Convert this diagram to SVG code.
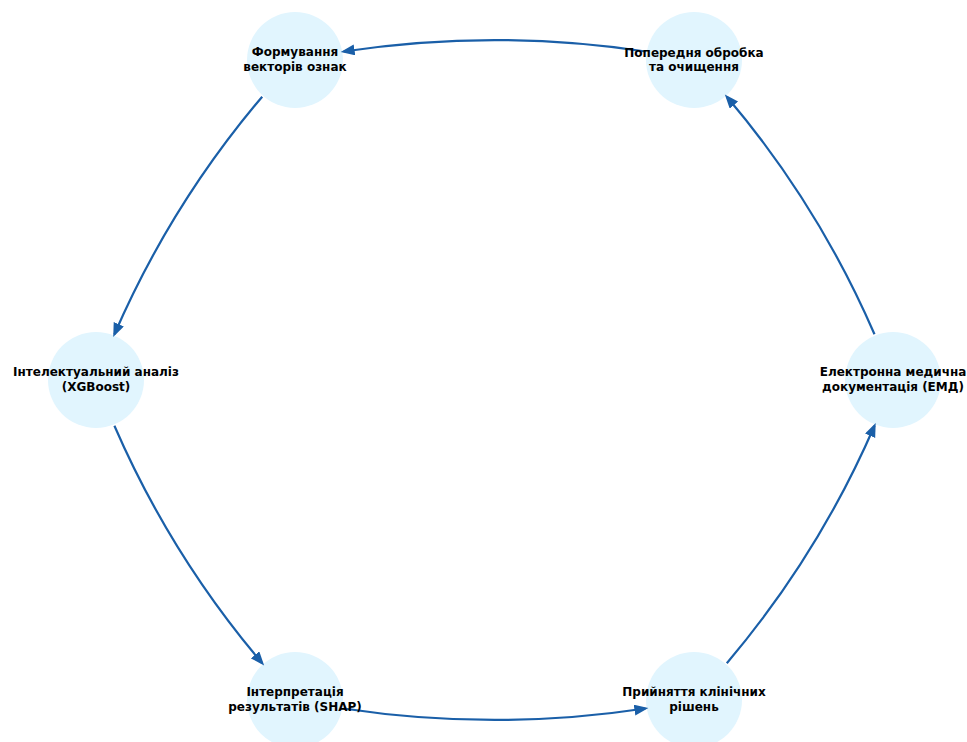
<svg xmlns="http://www.w3.org/2000/svg" width="967" height="742" viewBox="0 0 967 742">
<style>
.node circle{fill:#E1F5FE;stroke:none}
.node text{font-family:"DejaVu Sans","Liberation Sans",sans-serif;font-weight:bold;font-size:12px;fill:#000;text-anchor:middle}
.edges path{fill:none;stroke:#1A5FA8;stroke-width:2.2;marker-end:url(#arr)}
</style>
<defs>
<marker id="arr" markerUnits="userSpaceOnUse" markerWidth="15" markerHeight="12" refX="11" refY="5.5" orient="auto">
<path d="M0,0 L14,5.5 L0,11 z" fill="#1A5FA8"/>
</marker>
</defs>
<rect width="967" height="742" fill="#fff"/>
<g id="n-emd" class="node"><circle cx="893" cy="380" r="48"/></g>
<g id="n-prep" class="node"><circle cx="694" cy="60" r="48"/></g>
<g id="n-feat" class="node"><circle cx="295" cy="60" r="48"/></g>
<g id="n-xgb" class="node"><circle cx="96" cy="380" r="48"/></g>
<g id="n-shap" class="node"><circle cx="295" cy="700" r="48"/></g>
<g id="n-dec" class="node"><circle cx="694" cy="700" r="48"/></g>
<g id="edges" class="edges">
<path d="M874.5,334.3 Q818.3,204.6 726.8,96.7"/>
<path d="M645.4,51.5 Q494.5,28.6 343.6,51.5"/>
<path d="M262.2,96.7 Q170.7,204.6 114.4,334.3"/>
<path d="M114.4,425.7 Q170.7,555.4 262.2,663.2"/>
<path d="M343.6,708.5 Q494.5,731.4 645.4,708.5"/>
<path d="M726.8,663.2 Q818.3,555.4 874.5,425.7"/>
</g>
<g id="labels" class="node">
<text x="893" y="376">Електронна медична</text>
<text x="893" y="390.5">документація (ЕМД)</text>
<text x="694" y="56.5">Попередня обробка</text>
<text x="694" y="71">та очищення</text>
<text x="295" y="56">Формування</text>
<text x="295" y="70.5">векторів ознак</text>
<text x="96" y="376">Інтелектуальний аналіз</text>
<text x="96" y="390.5">(XGBoost)</text>
<text x="295" y="696">Інтерпретація</text>
<text x="295" y="710.5">результатів (SHAP)</text>
<text x="694" y="696">Прийняття клінічних</text>
<text x="694" y="710.5">рішень</text>
</g>
</svg>
